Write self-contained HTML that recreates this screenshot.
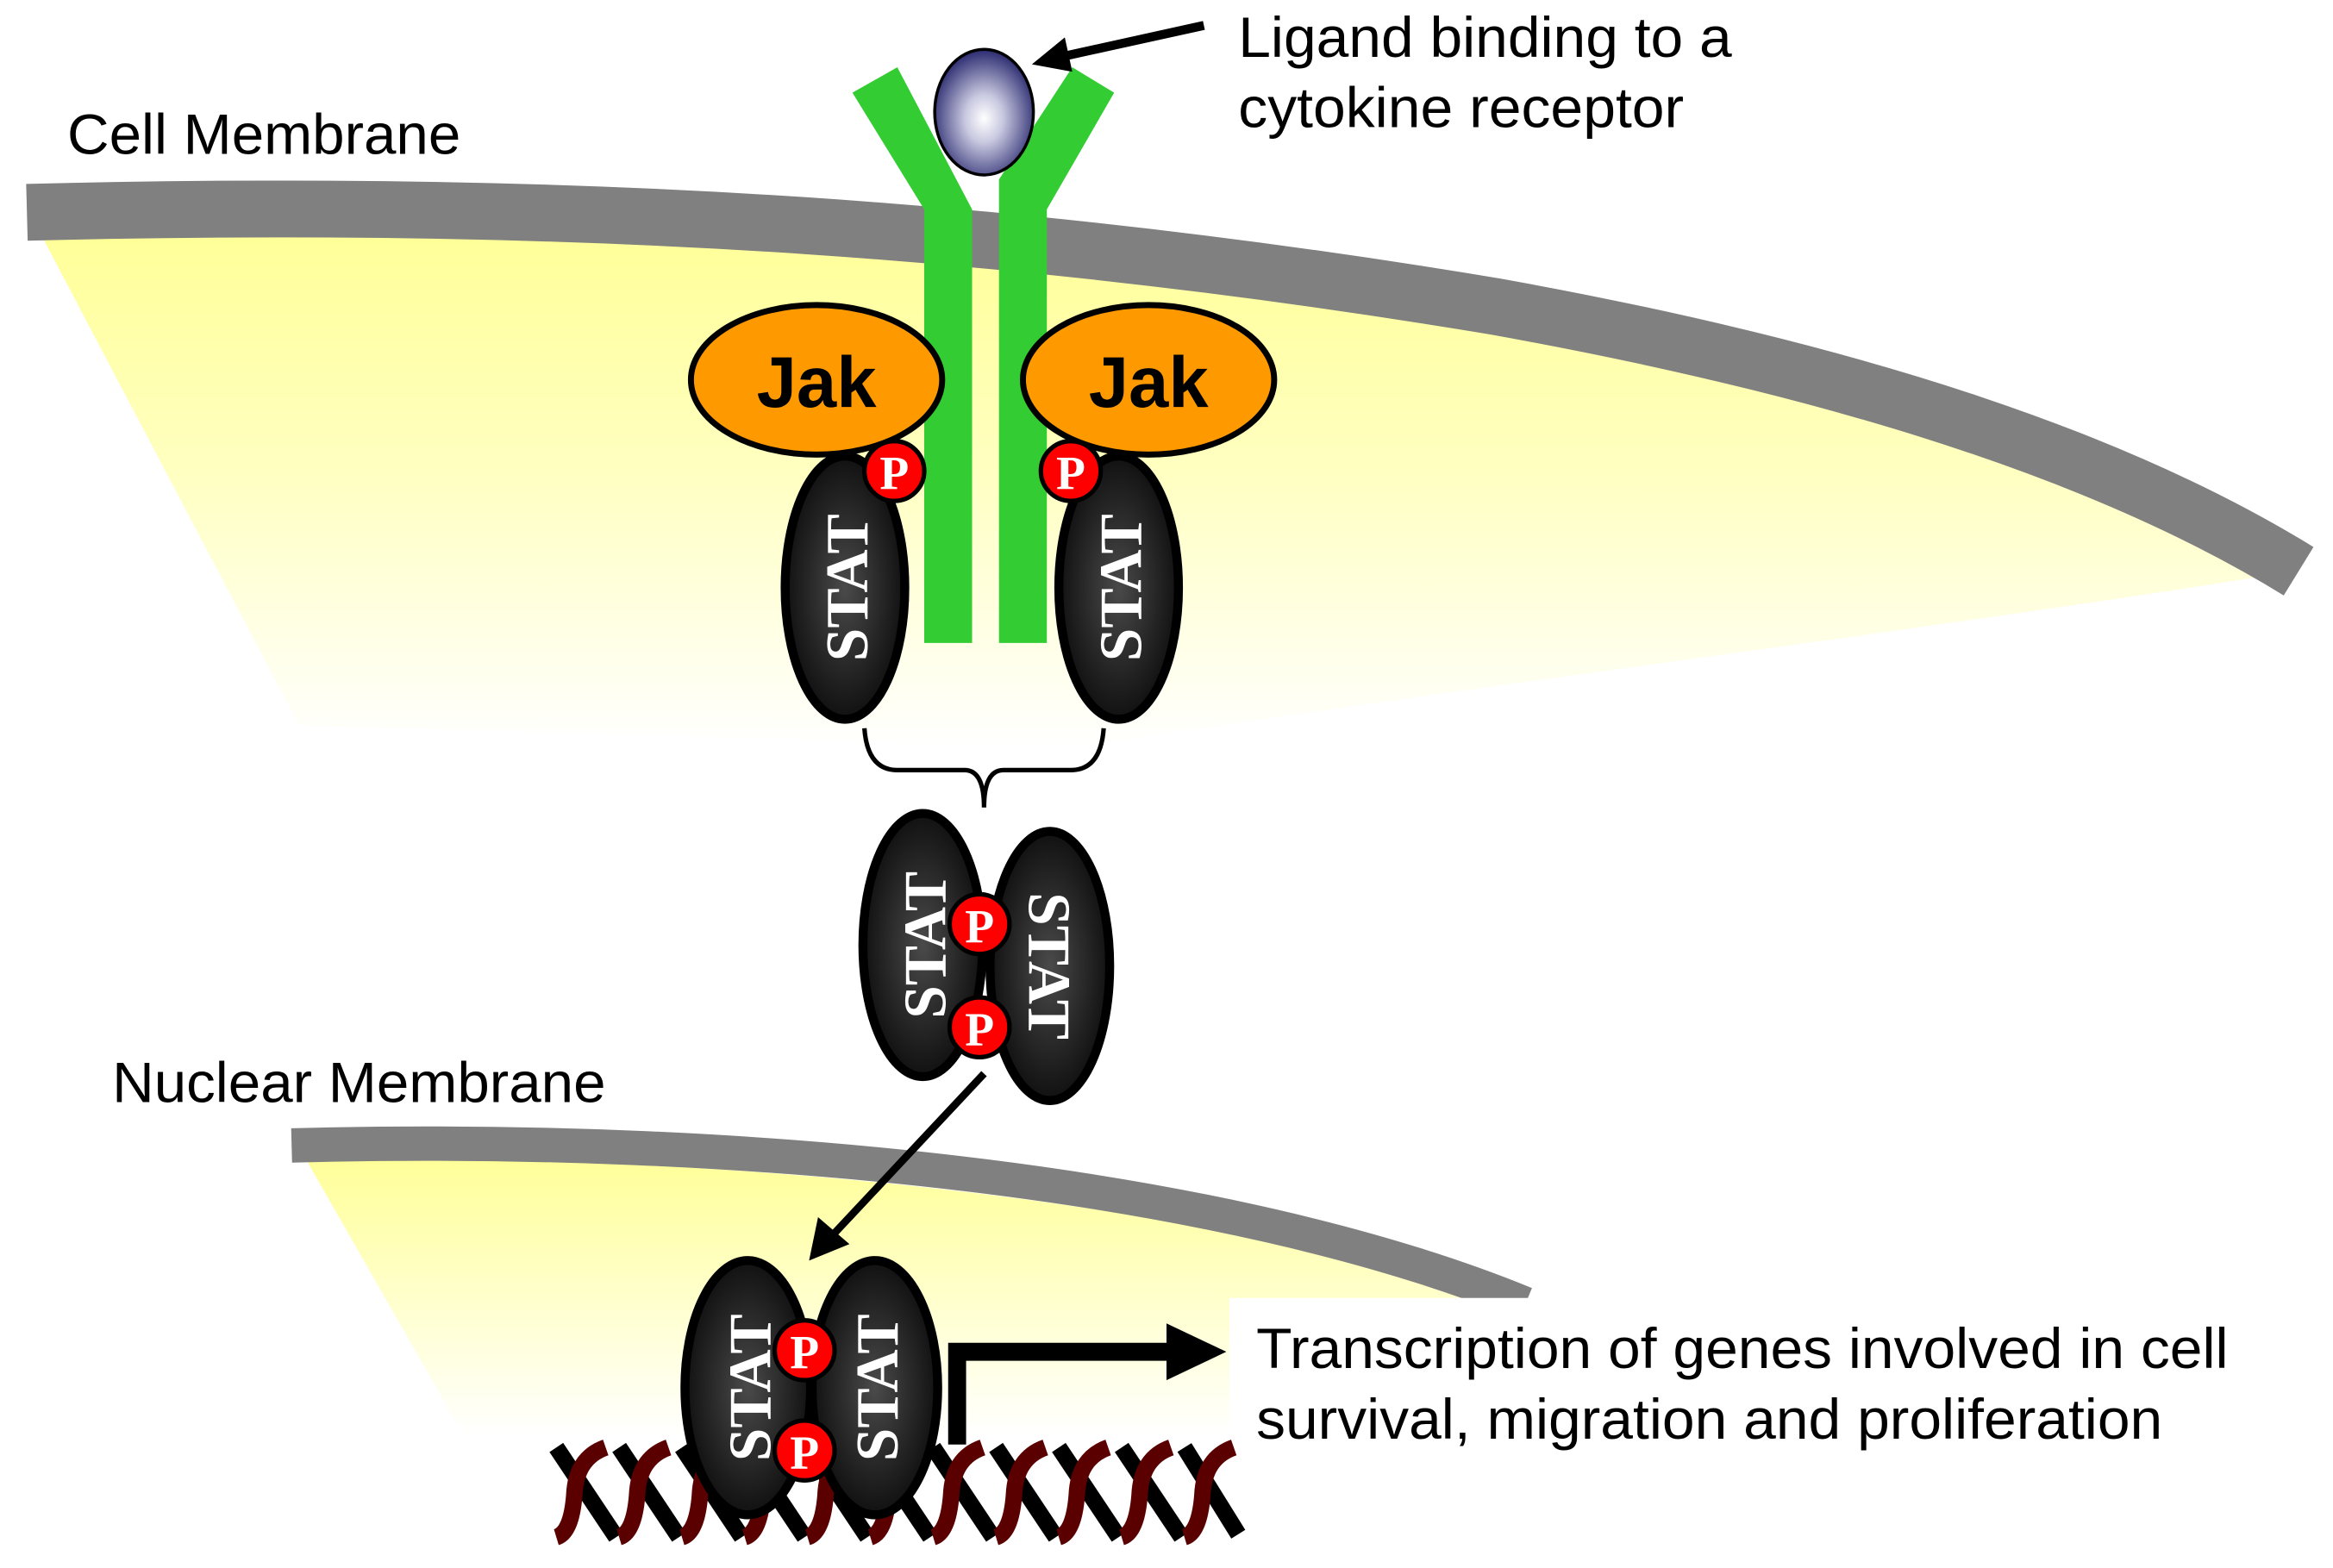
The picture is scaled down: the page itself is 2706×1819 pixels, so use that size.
<!DOCTYPE html>
<html><head><style>html,body{margin:0;padding:0;background:#fff}svg{display:block}</style></head>
<body>
<svg width="2706" height="1819" viewBox="0 0 1560 1048.6" preserveAspectRatio="none" xmlns="http://www.w3.org/2000/svg">
<defs>
<linearGradient id="yl" x1="0" y1="0" x2="0" y2="1">
<stop offset="0" stop-color="#ffff99"/><stop offset="0.45" stop-color="#ffffc0"/><stop offset="1" stop-color="#ffffff"/></linearGradient>
<linearGradient id="yl2" x1="0" y1="0" x2="0" y2="1">
<stop offset="0" stop-color="#ffff99"/><stop offset="1" stop-color="#ffffff"/></linearGradient>
<radialGradient id="lig" cx="0.5" cy="0.55" r="0.55">
<stop offset="0" stop-color="#ffffff"/><stop offset="0.35" stop-color="#c8c8e0"/><stop offset="1" stop-color="#2a2a70"/></radialGradient>
<radialGradient id="st" cx="0.5" cy="0.5" r="0.5">
<stop offset="0" stop-color="#4a4a4a"/><stop offset="1" stop-color="#111"/></radialGradient>
</defs>
<path d="M28,158 C400,150 700,170 1000,220 C1250,265 1420,330 1515,385 C1300,420 900,470 720,500 L200,485 Z" fill="url(#yl)"/>
<path d="M18,142 C400,132 700,155 1000,205 C1250,250 1420,310 1537,382" fill="none" stroke="#808080" stroke-width="38"/>
<text x="45" y="103" font-family="Liberation Sans, sans-serif" font-size="38" textLength="263" lengthAdjust="spacingAndGlyphs">Cell Membrane</text>
<path d="M205,776 C500,770 800,805 1010,870 L1010,960 L310,960 Z" fill="url(#yl2)"/>
<path d="M195,766 C500,758 820,790 1020,872" fill="none" stroke="#808080" stroke-width="23"/>
<text x="75" y="737" font-family="Liberation Sans, sans-serif" font-size="38" textLength="330" lengthAdjust="spacingAndGlyphs">Nuclear Membrane</text>
<rect x="822" y="868" width="740" height="110" fill="#fff"/>
<path d="M570,62 L600,45 L650,140 L650,430 L618,430 L618,140 Z" fill="#33cc33"/>
<path d="M745,62 L717,45 L668,120 L668,430 L700,430 L700,140 Z" fill="#33cc33"/>
<ellipse cx="658" cy="75" rx="33" ry="42" fill="url(#lig)" stroke="#000" stroke-width="2"/>
<line x1="805" y1="17" x2="705" y2="39" stroke="#000" stroke-width="6"/>
<polygon points="690,43 712,25 717,48" fill="#000"/>
<text x="828" y="38" font-family="Liberation Sans, sans-serif" font-size="38" textLength="330" lengthAdjust="spacingAndGlyphs">Ligand binding to a</text>
<text x="828" y="85" font-family="Liberation Sans, sans-serif" font-size="38" textLength="298" lengthAdjust="spacingAndGlyphs">cytokine receptor</text>
<ellipse cx="546" cy="254" rx="84" ry="50" fill="#ff9900" stroke="#000" stroke-width="4"/>
<ellipse cx="768" cy="254" rx="84" ry="50" fill="#ff9900" stroke="#000" stroke-width="4"/>
<text x="546" y="272" text-anchor="middle" font-family="Liberation Sans, sans-serif" font-weight="bold" font-size="48">Jak</text>
<text x="768" y="272" text-anchor="middle" font-family="Liberation Sans, sans-serif" font-weight="bold" font-size="48">Jak</text>
<g font-family="Liberation Serif, serif" font-weight="bold" font-size="40" fill="#fff" text-anchor="middle">
<ellipse cx="565" cy="393" rx="40" ry="88" fill="url(#st)" stroke="#000" stroke-width="6"/>
<text transform="translate(580,393) rotate(-90)">STAT</text>
<ellipse cx="748" cy="393" rx="40" ry="88" fill="url(#st)" stroke="#000" stroke-width="6"/>
<text transform="translate(763,393) rotate(-90)">STAT</text>
</g>
<g font-family="Liberation Serif, serif" font-weight="bold" font-size="32" fill="#fff" text-anchor="middle">
<circle cx="598" cy="315" r="20" fill="#ff0000" stroke="#000" stroke-width="3"/><text x="598" y="327">P</text>
<circle cx="716" cy="315" r="20" fill="#ff0000" stroke="#000" stroke-width="3"/><text x="716" y="327">P</text>
</g>
<path d="M578,487 Q580,515 600,515 L645,515 Q658,515 658,540 Q658,515 671,515 L716,515 Q736,515 738,487" fill="none" stroke="#000" stroke-width="3"/>
<g font-family="Liberation Serif, serif" font-weight="bold" font-size="40" fill="#fff" text-anchor="middle">
<ellipse cx="617" cy="632" rx="40" ry="88" fill="url(#st)" stroke="#000" stroke-width="6"/>
<text transform="translate(632,632) rotate(-90)">STAT</text>
<ellipse cx="702" cy="646" rx="40" ry="90" fill="url(#st)" stroke="#000" stroke-width="6"/>
<text transform="translate(688,646) rotate(90)">STAT</text>
</g>
<g font-family="Liberation Serif, serif" font-weight="bold" font-size="32" fill="#fff" text-anchor="middle">
<circle cx="655" cy="618" r="20" fill="#ff0000" stroke="#000" stroke-width="3"/><text x="655" y="630">P</text>
<circle cx="655" cy="687" r="20" fill="#ff0000" stroke="#000" stroke-width="3"/><text x="655" y="699">P</text>
</g>
<line x1="658" y1="718" x2="553" y2="830" stroke="#000" stroke-width="5"/>
<polygon points="541,843 547,814 568,832" fill="#000"/>
<g fill="none" stroke-width="11">
<path d="M372,968 L412,1028 M414,968 L454,1028 M456,968 L496,1028 M498,968 L538,1028 M540,968 L580,1028 M582,968 L622,1028 M624,968 L664,1028 M666,968 L706,1028 M708,968 L748,1028 M750,968 L790,1028 M792,968 L828,1026" stroke="#000"/>
<path d="M405,968 Q385,975 384,1000 Q382,1025 372,1028 M447,968 Q427,975 426,1000 Q424,1025 414,1028 M489,968 Q469,975 468,1000 Q466,1025 456,1028 M531,968 Q511,975 510,1000 Q508,1025 498,1028 M573,968 Q553,975 552,1000 Q550,1025 540,1028 M615,968 Q595,975 594,1000 Q592,1025 582,1028 M657,968 Q637,975 636,1000 Q634,1025 624,1028 M699,968 Q679,975 678,1000 Q676,1025 666,1028 M741,968 Q721,975 720,1000 Q718,1025 708,1028 M783,968 Q763,975 762,1000 Q760,1025 750,1028 M825,968 Q805,975 804,1000 Q802,1025 792,1028" stroke="#5a0000"/>
</g>
<g font-family="Liberation Serif, serif" font-weight="bold" font-size="40" fill="#fff" text-anchor="middle">
<ellipse cx="500" cy="928" rx="42" ry="85" fill="url(#st)" stroke="#000" stroke-width="6"/>
<text transform="translate(515,928) rotate(-90)">STAT</text>
<ellipse cx="585" cy="928" rx="42" ry="85" fill="url(#st)" stroke="#000" stroke-width="6"/>
<text transform="translate(600,928) rotate(-90)">STAT</text>
</g>
<g font-family="Liberation Serif, serif" font-weight="bold" font-size="32" fill="#fff" text-anchor="middle">
<circle cx="538" cy="903" r="20" fill="#ff0000" stroke="#000" stroke-width="3"/><text x="538" y="915">P</text>
<circle cx="538" cy="970" r="20" fill="#ff0000" stroke="#000" stroke-width="3"/><text x="538" y="982">P</text>
</g>
<path d="M640,966 L640,904 L785,904" fill="none" stroke="#000" stroke-width="12"/>
<polygon points="780,885 820,904 780,923" fill="#000"/>
<text x="840" y="915" font-family="Liberation Sans, sans-serif" font-size="38" textLength="650" lengthAdjust="spacingAndGlyphs">Transcription of genes involved in cell</text>
<text x="840" y="962" font-family="Liberation Sans, sans-serif" font-size="38" textLength="606" lengthAdjust="spacingAndGlyphs">survival, migration and proliferation</text>
</svg>
</body></html>
